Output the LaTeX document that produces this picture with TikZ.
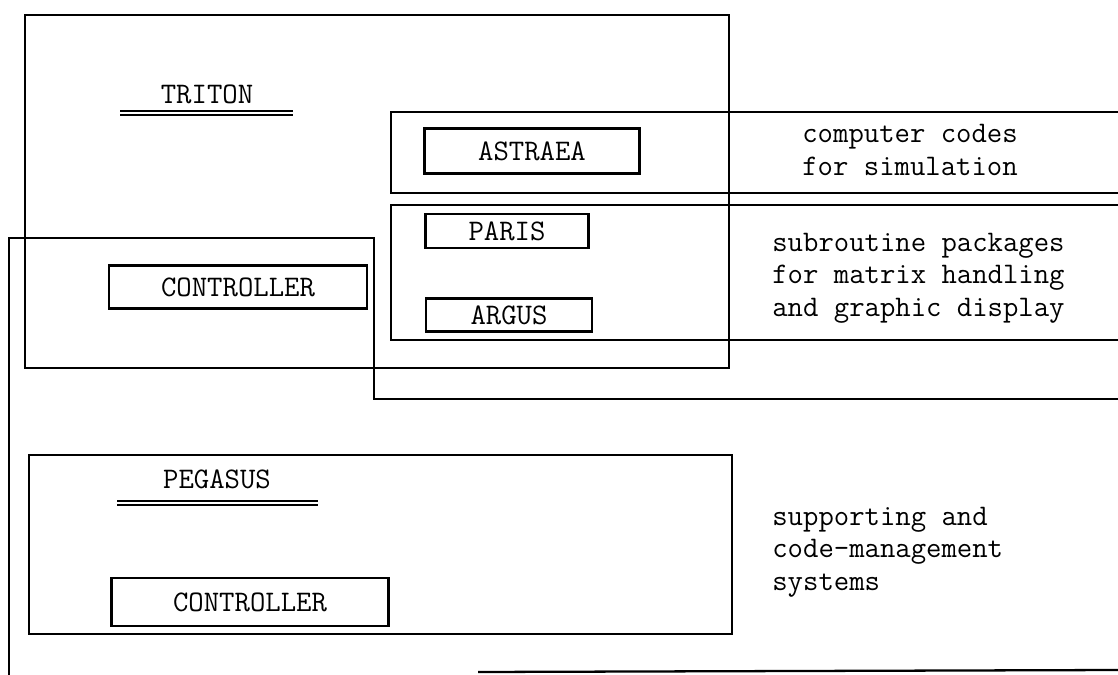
\documentclass[tikz,border=0pt]{standalone}
\usepackage{fontspec}

\begin{document}
\begin{tikzpicture}[x=0.02cm, y=-0.02cm,
        frame/.style={draw, line width=1.3pt},
        block/.style={rectangle, draw, line width=1.2pt, inner sep=0pt, font=\fontsize{17}{19}\ttfamily},
        title/.style={draw=none, font=\fontsize{17}{19}\ttfamily},
        rule/.style={draw, line width=0.6pt},
        note/.style={draw=none, anchor=west, align=left, inner sep=0pt, font=\fontsize{17}{18.6}\ttfamily}
    ]
    \useasboundingbox (0,0) rectangle (1118,675);

    % Frames
    \draw[frame] (25,15) rectangle (729,368);
    \draw[frame] (1118,112) -| (391,193) -- (1118,193);
    \draw[frame] (1118,205) -| (391,340) -- (1118,340);
    \draw[frame] (1118,399) -| (374,238) -| (9,675);
    \draw[frame] (29,455) rectangle (732,634);
    \draw[frame] (478,672) -- (1118,670);

    % Nodes
    \node[title] (triton) at (207,94) {TRITON};
    \node[title] (pegasus) at (217,479) {PEGASUS};
    \node[block, minimum width=4.3cm, minimum height=0.9cm] (astraea) at (532,151) {ASTRAEA};
    \node[block, minimum width=3.26cm, minimum height=0.68cm] (paris) at (507,231) {PARIS};
    \node[block, minimum width=3.32cm, minimum height=0.66cm] (argus) at (509,315) {ARGUS};
    \node[block, minimum width=5.16cm, minimum height=0.86cm] (ctrltop) at (238,287) {CONTROLLER};
    \node[block, minimum width=5.54cm, minimum height=0.96cm] (ctrlbot) at (250,602) {CONTROLLER};

    % Double rules under the titles
    \draw[rule] (120,111) -- (293,111);
    \draw[rule] (120,115) -- (293,115);
    \draw[rule] (117,501) -- (318,501);
    \draw[rule] (117,505) -- (318,505);

    % Notes on the right
    \node[note] (simnote) at (802,150) {computer codes\\for simulation};
    \node[note] (subnote) at (772,278) {subroutine packages\\for matrix handling\\and graphic display};
    \node[note] (supnote) at (772,552) {supporting and\\code-management\\systems};

\end{tikzpicture}
\end{document}
